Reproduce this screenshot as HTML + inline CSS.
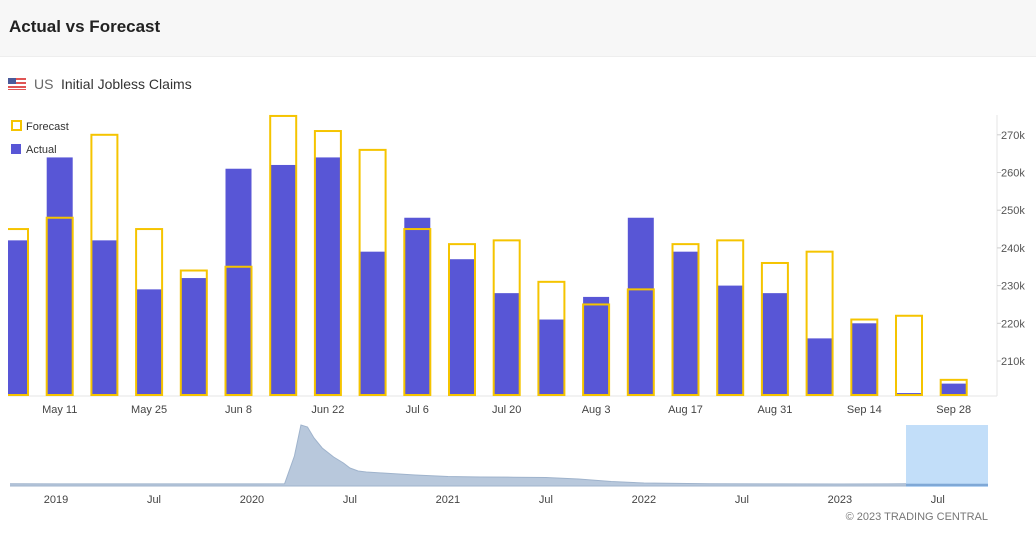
<!DOCTYPE html>
<html><head><meta charset="utf-8">
<style>
body{margin:0;width:1036px;height:537px;background:#fff;font-family:"Liberation Sans",sans-serif;overflow:hidden;position:relative}
.hdr{position:absolute;left:0;top:0;width:1036px;height:56px;background:#f7f7f7;border-bottom:1px solid #eee}
.hdr h1{margin:0;position:absolute;left:9px;top:17px;font-size:17px;font-weight:bold;color:#222}
svg{position:absolute;left:0;top:0}
</style></head><body>
<div class="hdr"><h1>Actual vs Forecast</h1></div>
<svg id="c" width="1036" height="537">
  <g>
    <rect x="8" y="78" width="18" height="12" fill="#e05555"/>
    <rect x="8" y="80" width="18" height="2" fill="#fff"/><rect x="8" y="84" width="18" height="2" fill="#fff"/><rect x="8" y="88" width="18" height="1" fill="#fff"/>
    <rect x="8" y="78" width="8" height="6" fill="#4a5a9a"/>
  </g>
  <text x="34" y="89" font-size="14" fill="#666">US</text>
  <text x="61" y="89" font-size="14" fill="#333">Initial Jobless Claims</text>
  <g>
    <rect x="12" y="121" width="9" height="9" fill="none" stroke="#f5c400" stroke-width="2"/>
    <text x="26" y="130" font-size="11" fill="#333">Forecast</text>
    <rect x="11" y="144" width="10" height="10" fill="#5856d6"/>
    <text x="26" y="153" font-size="11" fill="#333">Actual</text>
  </g>
  <line x1="997" y1="115" x2="997" y2="396" stroke="#e6e6e6"/>
  <line x1="8" y1="396" x2="997" y2="396" stroke="#e6e6e6"/>
  <g id="bars"></g><g id="yt"></g><g id="xt"></g><g id="nav"></g>
  <text x="988" y="520" font-size="11" fill="#777" text-anchor="end">© 2023 TRADING CENTRAL</text>
</svg>
<script>
const categories=["May 4","May 11","May 18","May 25","Jun 1","Jun 8","Jun 15","Jun 22","Jun 29","Jul 6","Jul 13","Jul 20","Jul 27","Aug 3","Aug 10","Aug 17","Aug 24","Aug 31","Sep 7","Sep 14","Sep 21","Sep 28"];
const actual=[242,264,242,229,232,261,262,264,239,248,237,228,221,227,248,239,230,228,216,220,201.5,204];
const forecast=[245,248,270,245,234,235,275,271,266,245,241,242,231,225,229,241,242,236,239,221,222,205];
const yTicks=[210,220,230,240,250,260,270];
const xLabelIdx=[1,3,5,7,9,11,13,15,17,19,21];
const navMonths=[-3,0,3,6,9,12,14,14.6,15.0,15.4,15.8,16.3,17,17.6,18,18.5,19,20,22,24,26,28,30,32,34,36,40,44,48,52,56,58];
const navValues=[220,215,215,215,215,215,230,3000,6100,5900,4800,3800,2900,2300,1800,1500,1400,1300,1100,950,900,880,850,700,450,300,230,210,200,220,210,215];
const navYearLabels=["2019","Jul","2020","Jul","2021","Jul","2022","Jul","2023","Jul"];
const NS="http://www.w3.org/2000/svg";
function mk(t,a,p){const e=document.createElementNS(NS,t);for(const k in a)e.setAttribute(k,a[k]);p.appendChild(e);return e;}
const y=v=>361+(210-v)*3.77, base=396;
const xc=i=>15+i*44.7, bw=26;
const bars=document.getElementById('bars');
const clip=mk('clipPath',{id:'cl'},bars);mk('rect',{x:8,y:100,width:990,height:296},clip);
const g=mk('g',{'clip-path':'url(#cl)'},bars);
actual.forEach((v,i)=>{
  const h=Math.max(2,base-y(v));
  const a=mk('rect',{x:xc(i)-bw/2,y:base-h,width:bw,height:h,fill:'#5856d6'},g);
  
  
  const f=forecast[i];
  const r=mk('rect',{x:xc(i)-bw/2,y:y(f),width:bw,height:base-1-y(f),fill:'none',stroke:'#f5c400','stroke-width':2},g);
  
  
});
const yt=document.getElementById('yt');
yTicks.forEach(v=>{
  mk('line',{x1:997,x2:1001,y1:y(v),y2:y(v),stroke:'#ccc'},yt);
  const t=mk('text',{x:1001,y:y(v)+4,'font-size':11,fill:'#555'},yt);t.textContent=v+'k';
  
  
});
const xt=document.getElementById('xt');
xLabelIdx.forEach(i=>{
  const t=mk('text',{x:xc(i),y:413,'font-size':11,fill:'#444','text-anchor':'middle'},xt);t.textContent=categories[i];
  
  
});
const nav=document.getElementById('nav');
const nx=m=>56+m*16.33, ny=v=>486-v/6100*61;
let d='M'+nx(navMonths[0])+','+486;
navMonths.forEach((m,i)=>{d+=' L'+nx(m)+','+ny(navValues[i]);});
d+=' L988,'+ny(navValues[navValues.length-1])+' L988,486 Z';
const ncl=mk('clipPath',{id:'ncl'},nav);mk('rect',{x:10,y:420,width:978,height:70},ncl);
const na=mk('path',{d:d,fill:'#b8c8dc',stroke:'#9fb3cc','stroke-width':1,'clip-path':'url(#ncl)'},nav);


const sel=mk('rect',{x:906,y:425,width:82,height:62,fill:'#a8d0f7','fill-opacity':0.7},nav);


mk('line',{x1:906,x2:988,y1:485,y2:485,stroke:'#7fa8d6','stroke-width':2},nav);
navYearLabels.forEach((l,i)=>{
  const t=mk('text',{x:nx(i*6),y:503,'font-size':11,fill:'#444','text-anchor':'middle'},nav);t.textContent=l;
  
  
});
</script>
</body></html>
